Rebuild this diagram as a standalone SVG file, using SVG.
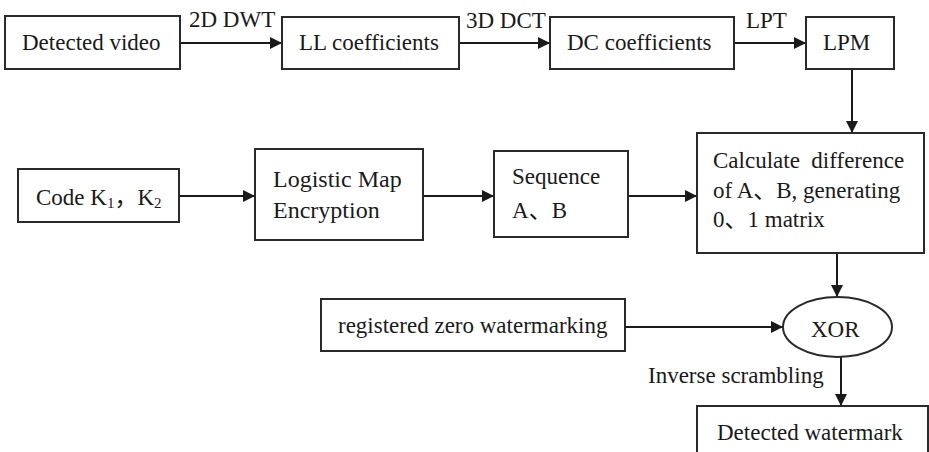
<svg xmlns="http://www.w3.org/2000/svg" width="929" height="452" viewBox="0 0 929 452" font-family="'Liberation Serif', 'Times New Roman', serif">
  <style>
    text { font-family: 'Liberation Serif', 'Times New Roman', serif; font-size: 23px; fill: #1a1a1a; }
    .cjk { font-family: 'Noto Sans CJK SC', 'Liberation Serif', serif; }
    .box { fill: #fff; stroke: #2a2a2a; stroke-width: 2; }
    .edge { fill: none; stroke: #1a1a1a; stroke-width: 2; }
    .big { font-size: 24px; }
  </style>
  <defs>
    <marker id="arrow" markerUnits="userSpaceOnUse" markerWidth="13" markerHeight="13" refX="12" refY="6" orient="auto">
      <path d="M0,0 L12,6 L0,12 Z" fill="#1a1a1a"/>
    </marker>
  </defs>
  <rect width="929" height="452" fill="#fff"/>

  <!-- connectors -->
  <g id="connectors">
    <line class="edge" x1="180" y1="43" x2="282" y2="43" marker-end="url(#arrow)"/>
    <line class="edge" x1="459" y1="43" x2="550" y2="43" marker-end="url(#arrow)"/>
    <line class="edge" x1="734" y1="43" x2="806" y2="43" marker-end="url(#arrow)"/>
    <line class="edge" x1="852" y1="69" x2="852" y2="133" marker-end="url(#arrow)"/>
    <line class="edge" x1="179" y1="196" x2="255" y2="196" marker-end="url(#arrow)"/>
    <line class="edge" x1="423" y1="196" x2="494" y2="196" marker-end="url(#arrow)"/>
    <line class="edge" x1="628" y1="196" x2="697" y2="196" marker-end="url(#arrow)"/>
    <line class="edge" x1="837" y1="253" x2="837" y2="297" marker-end="url(#arrow)"/>
    <line class="edge" x1="625" y1="327" x2="783" y2="327" marker-end="url(#arrow)"/>
    <line class="edge" x1="841" y1="357" x2="841" y2="406" marker-end="url(#arrow)"/>
    <text x="189" y="27">2D DWT</text>
    <text x="466" y="28">3D DCT</text>
    <text x="746" y="28">LPT</text>
    <text x="648" y="383">Inverse scrambling</text>
  </g>

  <g id="detected-video">
    <rect class="box" x="5" y="16" width="175" height="53"/>
    <text x="22" y="50">Detected video</text>
  </g>
  <g id="ll-coefficients">
    <rect class="box" x="282" y="17" width="177" height="52"/>
    <text x="299" y="50">LL coefficients</text>
  </g>
  <g id="dc-coefficients">
    <rect class="box" x="550" y="17" width="184" height="52"/>
    <text x="567" y="50">DC coefficients</text>
  </g>
  <g id="lpm">
    <rect class="box" x="806" y="17" width="88" height="52"/>
    <text x="823" y="50">LPM</text>
  </g>

  <g id="code">
    <rect class="box" x="18" y="169" width="161" height="53"/>
    <text x="36" y="205">Code K<tspan font-size="15" dy="3">1</tspan><tspan class="cjk" dy="-3">，</tspan>K<tspan font-size="15" dy="3">2</tspan></text>
  </g>
  <g id="logistic-map">
    <rect class="box" x="255" y="149" width="168" height="91"/>
    <text class="big" x="273" y="187">Logistic Map</text>
    <text class="big" x="273" y="218">Encryption</text>
  </g>
  <g id="sequence">
    <rect class="box" x="494" y="151" width="134" height="86"/>
    <text x="512" y="184">Sequence</text>
    <text x="512" y="218">A<tspan class="cjk">、</tspan>B</text>
  </g>
  <g id="calculate">
    <rect class="box" x="697" y="133" width="227" height="120"/>
    <text x="713" y="168" xml:space="preserve">Calculate  difference</text>
    <text x="713" y="198">of A<tspan class="cjk">、</tspan>B, generating</text>
    <text x="713" y="227">0<tspan class="cjk">、</tspan>1 matrix</text>
  </g>

  <g id="registered">
    <rect class="box" x="321" y="299" width="304" height="52"/>
    <text x="338" y="333">registered zero watermarking</text>
  </g>
  <g id="xor">
    <ellipse class="box" cx="837.5" cy="327" rx="54.5" ry="30"/>
    <text x="811" y="337">XOR</text>
  </g>
  <g id="detected-watermark">
    <rect class="box" x="697" y="406" width="231" height="60"/>
    <text x="717" y="440">Detected watermark</text>
  </g>
</svg>
